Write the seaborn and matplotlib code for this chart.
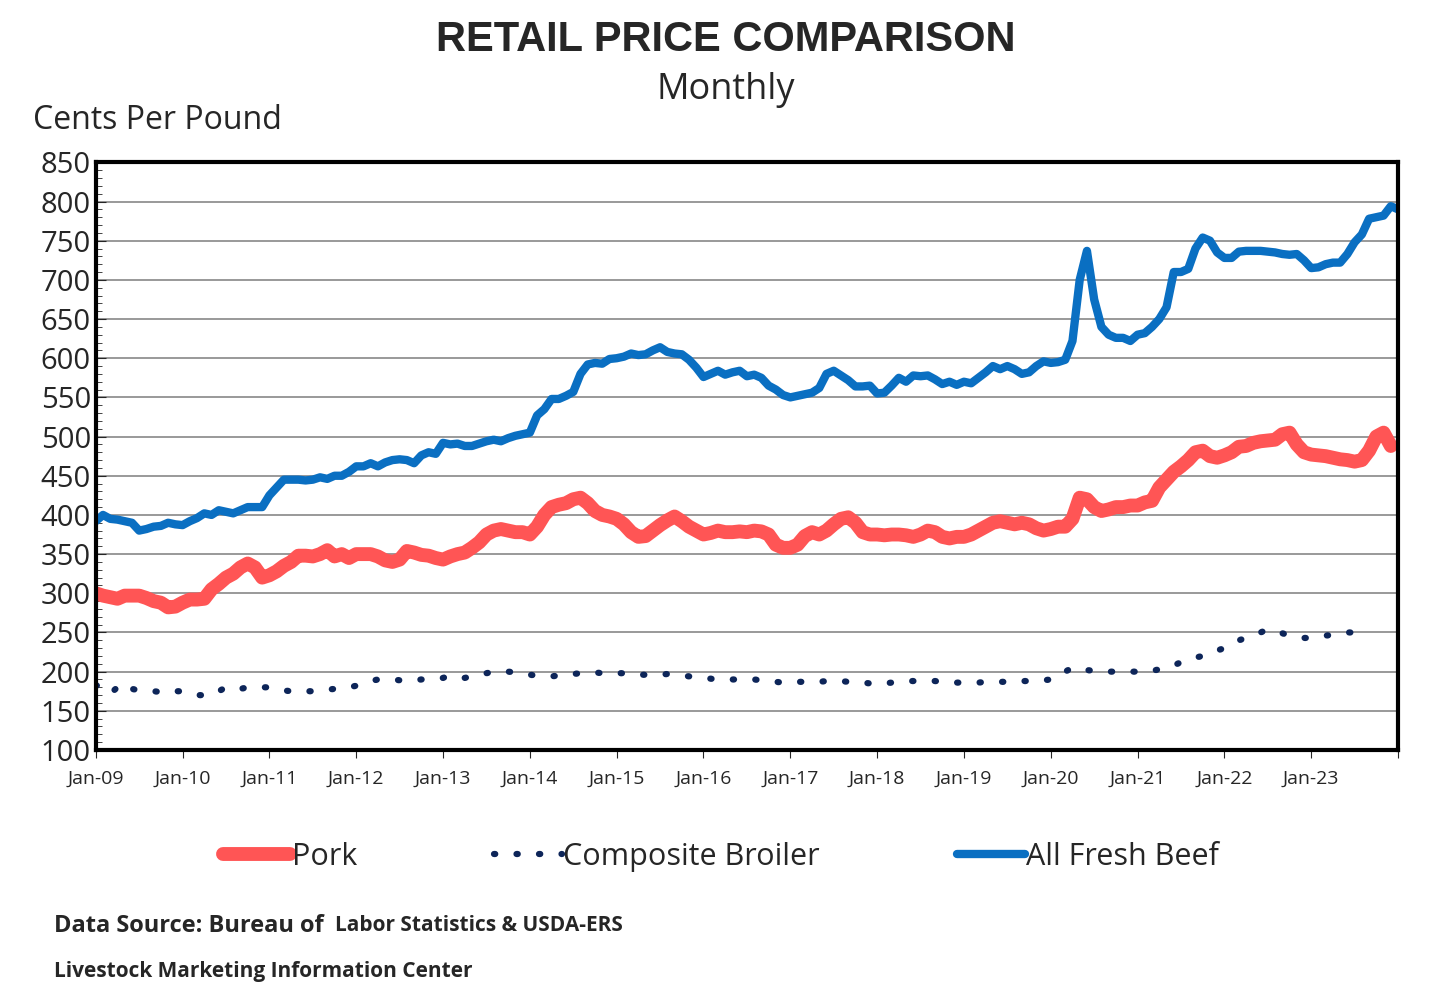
import numpy as np
import pandas as pd
import matplotlib
matplotlib.use('Agg')
import matplotlib.pyplot as plt
from matplotlib.ticker import MultipleLocator
import seaborn as sns

sns.set_style('white')

# Monthly retail prices, cents per pound, starting Jan-09
beef = [392, 400, 395, 394, 392, 390, 380, 382, 385, 386, 390, 388,
        387, 392, 396, 402, 400, 406, 404, 402, 406, 410, 410, 410,
        425, 435, 445, 445, 445, 444, 445, 448, 446, 450, 450, 455,
        462, 462, 466, 462, 467, 470, 471, 470, 466, 476, 480, 478,
        492, 490, 491, 488, 488, 491, 494, 496, 494, 498, 501, 503,
        505, 527, 535, 548, 548, 552, 557, 580, 592, 594, 593, 599,
        600, 602, 606, 604, 605, 610, 614, 608, 606, 605, 598, 588,
        576, 580, 584, 579, 582, 584, 577, 579, 575, 565, 560, 553,
        550, 552, 554, 556, 562, 580, 584, 578, 572, 564, 564, 565,
        555, 556, 565, 575, 570, 578, 577, 578, 573, 567, 570, 566,
        570, 568, 575, 582, 590, 586, 590, 586, 580, 582, 590, 596,
        594, 595, 598, 622, 700, 737, 675, 640, 630, 626, 626, 622,
        630, 632, 640, 650, 665, 710, 710, 714, 740, 754, 750, 735,
        728, 728, 736, 737, 737, 737, 736, 735, 733, 732, 733, 725,
        715, 716, 720, 722, 722, 733, 748, 758, 778, 780, 782, 794, 790]

pork = [300, 297, 295, 293, 297, 297, 297, 294, 290, 288, 282, 283,
        288, 292, 292, 293, 305, 312, 320, 325, 333, 338, 333, 320,
        323, 328, 335, 340, 348, 348, 347, 350, 355, 347, 350, 345,
        350, 350, 350, 347, 342, 340, 343, 354, 352, 349, 348, 345,
        343, 347, 350, 352, 358, 365, 375, 380, 382, 380, 378, 378,
        375, 385, 400, 410, 413, 415, 420, 422, 415, 405, 400, 398,
        395, 388, 378, 372, 373, 380, 387, 393, 398, 392, 385, 380,
        375, 377, 380, 378, 378, 379, 378, 380, 379, 375, 362, 358,
        358, 362, 373, 378, 375, 380, 388, 395, 397, 390, 378, 375,
        375, 374, 375, 375, 374, 372, 375, 380, 378, 372, 370, 372,
        372, 375, 380, 385, 390, 392, 390, 388, 390, 388, 383, 380,
        382, 385, 385, 395, 422, 420, 410, 405, 407, 410, 410, 412,
        412, 416, 418, 435, 445, 455, 462, 470, 480, 482, 475, 473,
        476, 480, 487, 488, 492, 494, 495, 496, 503, 505, 490, 480,
        477, 476, 475, 473, 471, 470, 468, 470, 482, 500, 505, 488]

broiler = [183, 178, 172, 180, 185, 178, 176, 175, 175, 174, 176, 175,
           175, 172, 170, 170, 170, 175, 180, 178, 178, 180, 180, 180,
           180, 178, 176, 175, 174, 175, 175, 176, 177, 178, 178, 180,
           182, 185, 188, 190, 190, 190, 189, 190, 189, 190, 190, 191,
           192, 195, 193, 192, 194, 197, 198, 200, 201, 200, 199, 197,
           196, 195, 195, 194, 195, 197, 197, 198, 199, 199, 198, 198,
           198, 198, 197, 196, 196, 196, 196, 197, 196, 195, 194, 193,
           192, 191, 190, 190, 190, 190, 190, 190, 189, 188, 187, 186,
           186, 187, 187, 187, 187, 188, 188, 188, 187, 187, 186, 185,
           184, 185, 186, 187, 188, 188, 188, 188, 188, 187, 187, 186,
           186, 186, 186, 187, 187, 187, 187, 188, 188, 188, 188, 189,
           190, 193, 200, 205, 204, 202, 201, 201, 200, 200, 200, 200,
           200, 200, 201, 203, 205, 208, 212, 215, 218, 220, 223, 227,
           230, 235, 240, 243, 246, 250, 254, 252, 249, 246, 244, 243,
           243, 245, 246, 247, 248, 250, 250, 249, 248]

year_labels = ['Jan-%02d' % y for y in range(9, 24)]

font = 'Open Sans'
fig = plt.figure(figsize=(14.51, 10.02), dpi=100)
ax = fig.add_axes([0.066, 0.2515, 0.8975, 0.5865])

pdf = pd.DataFrame({'m': np.arange(len(pork)), 'v': pork})
bdf = pd.DataFrame({'m': np.arange(len(broiler)), 'v': broiler})
fdf = pd.DataFrame({'m': np.arange(len(beef)), 'v': beef})

sns.lineplot(data=pdf, x='m', y='v', ax=ax, color='#FF5555', lw=10,
             solid_capstyle='round', label='Pork')
sns.lineplot(data=bdf, x='m', y='v', ax=ax, color='#0D2559', lw=4.5,
             linestyle=(0, (0.2, 3.4)), dash_capstyle='round', label='Composite Broiler')
sns.lineplot(data=fdf, x='m', y='v', ax=ax, color='#0A6FC2', lw=6,
             solid_capstyle='round', label='All Fresh Beef')

ax.set_xlim(0, 180)
ax.set_ylim(100, 850)
ax.set_xticks(np.arange(0, 181, 12))
ax.set_xticklabels(year_labels + [''], fontsize=14, fontfamily=font)
ax.yaxis.set_major_locator(MultipleLocator(50))
ax.yaxis.set_minor_locator(MultipleLocator(10))
ax.tick_params(axis='y', which='major', labelsize=21, length=7, direction='in', left=True)
ax.tick_params(axis='y', which='minor', length=4, direction='in', left=True)
ax.tick_params(axis='x', length=6, direction='out', bottom=True, pad=8)
for lab in ax.get_yticklabels():
    lab.set_fontfamily(font)
ax.grid(axis='y', color='#888888', lw=1.2)
ax.set_xlabel('')
ax.set_ylabel('')
for s in ax.spines.values():
    s.set_linewidth(3)
    s.set_color('black')

fig.text(0.5, 0.96, 'RETAIL PRICE COMPARISON', ha='center', va='center',
         fontsize=30, fontweight='bold', fontfamily='Liberation Sans')
fig.text(0.5, 0.91, 'Monthly', ha='center', va='center', fontsize=26, fontfamily=font)
fig.text(0.023, 0.88, 'Cents Per Pound', ha='left', va='center', fontsize=23, fontfamily=font)

leg = ax.legend(loc='upper center', bbox_to_anchor=(0.48, -0.11), ncol=3, frameon=False,
                prop={'family': font, 'size': 22}, handlelength=2.2, columnspacing=4.5,
                handletextpad=0.05)

fig.text(0.037, 0.076, 'Data Source: Bureau of', ha='left', va='center', fontsize=17,
         fontweight='bold', fontfamily=font)
fig.text(0.231, 0.076, 'Labor Statistics & USDA-ERS', ha='left', va='center', fontsize=15,
         fontweight='bold', fontfamily=font)
fig.text(0.037, 0.03, 'Livestock Marketing Information Center', ha='left', va='center',
         fontsize=15, fontweight='bold', fontfamily=font)

fig.savefig('out.png', dpi=100)
